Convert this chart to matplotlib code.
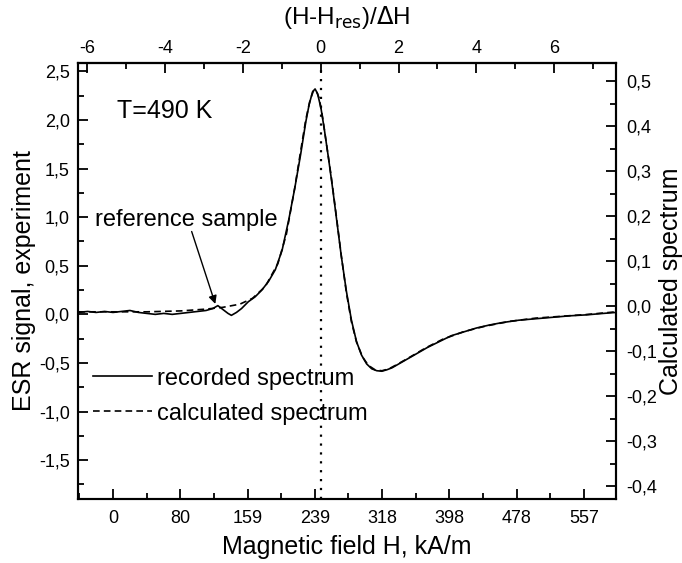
import matplotlib
matplotlib.use('Agg')
from matplotlib import pyplot as plt
from matplotlib.ticker import FixedLocator, FuncFormatter, MultipleLocator

plt.rcParams['font.family'] = ['Liberation Sans', 'DejaVu Sans']
plt.rcParams['axes.unicode_minus'] = False

# recorded spectrum (left axis), field in kA/m
h_rec = [-41, -30, -20, -10, 0, 10, 20, 30, 40, 50, 60, 70, 80, 90, 100, 110,
         118, 124, 130, 136, 140, 146, 152, 160, 168, 176, 184, 192, 200, 208,
         215, 222, 228, 232, 236, 239, 242, 246, 250, 255, 260, 265, 270, 276,
         282, 288, 294, 300, 306, 312, 318, 324, 330, 340, 350, 360, 372, 386,
         400, 415, 430, 445, 460, 480, 500, 520, 540, 560, 580, 595]
esr_rec = [0.02, 0.03, 0.02, 0.03, 0.02, 0.03, 0.04, 0.02, 0.01, 0.0, 0.01, 0.0,
           0.01, 0.02, 0.03, 0.04, 0.06, 0.09, 0.05, 0.01, -0.01, 0.02, 0.06,
           0.13, 0.18, 0.25, 0.34, 0.46, 0.66, 0.98, 1.3, 1.65, 1.98, 2.16,
           2.29, 2.32, 2.27, 2.12, 1.9, 1.6, 1.28, 0.94, 0.6, 0.24, -0.06,
           -0.28, -0.42, -0.51, -0.56, -0.58, -0.585, -0.57, -0.55, -0.5,
           -0.45, -0.4, -0.34, -0.28, -0.22, -0.18, -0.14, -0.11, -0.085,
           -0.06, -0.045, -0.03, -0.015, -0.005, 0.01, 0.02]

# calculated spectrum (right axis)
h_calc = [-41, 0, 40, 80, 110, 130, 150, 165, 180, 195, 205, 215, 222, 228, 233,
          237, 240, 244, 248, 253, 258, 264, 270, 276, 282, 288, 295, 302, 310,
          318, 326, 336, 350, 370, 390, 415, 440, 470, 500, 530, 560, 595]
calc = [-0.012, -0.012, -0.012, -0.010, -0.006, -0.002, 0.005, 0.018, 0.044,
        0.095, 0.160, 0.264, 0.346, 0.415, 0.458, 0.479, 0.481, 0.462, 0.419,
        0.354, 0.290, 0.203, 0.113, 0.031, -0.034, -0.079, -0.112, -0.131,
        -0.141, -0.143, -0.139, -0.129, -0.114, -0.092, -0.073, -0.056,
        -0.044, -0.033, -0.026, -0.022, -0.018, -0.012]

field_ticks = [0, 79.577, 159.15, 238.73, 318.31, 397.89, 477.46, 557.04]
field_labels = ['0', '80', '159', '239', '318', '398', '478', '557']

h_res = 245.7
delta_h = 46.0

comma = FuncFormatter(lambda v, p: f'{v:.1f}'.replace('.', ','))

fig = plt.figure(figsize=(6.82, 5.63), dpi=100)
ax = fig.add_axes([0.1144, 0.1137, 0.7889, 0.7744])
ax2 = ax.twinx()

ax.plot(h_rec, esr_rec, color='black', lw=1.2, label='recorded spectrum')
ax2.plot(h_calc, calc, color='black', lw=1.2, ls=(0, (4, 2.5)))
ax.plot([], [], color='black', lw=1.2, ls=(0, (4, 2.5)), label='calculated spectrum')
ax.axvline(h_res, color='black', ls=(0, (1, 3)), lw=1.6)

ax.set_xlim(-41.4, 595)
ax.set_ylim(-1.90, 2.587)
ax2.set_ylim(-0.428, 0.541)

ax.xaxis.set_major_locator(FixedLocator(field_ticks))
ax.set_xticklabels(field_labels)
ax.xaxis.set_minor_locator(FixedLocator([t + 39.79 for t in [-79.577] + field_ticks]))
ax.yaxis.set_major_locator(MultipleLocator(0.5))
ax.yaxis.set_minor_locator(MultipleLocator(0.25))
ax.yaxis.set_major_formatter(comma)
ax2.yaxis.set_major_locator(MultipleLocator(0.1))
ax2.yaxis.set_minor_locator(MultipleLocator(0.05))
ax2.yaxis.set_major_formatter(comma)

top = ax.secondary_xaxis('top', functions=(lambda h: (h - h_res) / delta_h,
                                           lambda u: u * delta_h + h_res))
top.xaxis.set_major_locator(MultipleLocator(2))
top.xaxis.set_minor_locator(MultipleLocator(1))
top.set_xlabel('(H-H$_{\\mathrm{res}}$)/$\\Delta$H', fontsize=17.5, labelpad=12)

for a in (ax, ax2, top):
    a.tick_params(which='major', direction='in', length=7, width=1.3, labelsize=13)
    a.tick_params(which='minor', direction='in', length=4, width=1.3)
top.tick_params(which='both', direction='in', pad=4)
ax.tick_params(axis='x', which='both', top=False, pad=8)
ax.tick_params(axis='y', pad=6)
ax2.tick_params(axis='y', pad=7)
for s in ax.spines.values():
    s.set_linewidth(1.5)
for s in ax2.spines.values():
    s.set_linewidth(1.5)
top.spines['top'].set_linewidth(1.5)

ax.set_xlabel('Magnetic field H, kA/m', fontsize=18, labelpad=6)
ax.set_ylabel('ESR signal, experiment', fontsize=18, labelpad=2)
ax2.set_ylabel('Calculated spectrum', fontsize=18, labelpad=2)

ax.text(4.7, 2.09, 'T=490 K', fontsize=18, va='center')
ax.text(-21, 0.97, 'reference sample', fontsize=17, va='center')
ax.annotate('', xy=(122, 0.08), xytext=(92, 0.88),
            arrowprops=dict(arrowstyle='-|>', color='black', lw=1.0,
                            mutation_scale=12))

ax.legend(loc='center left', bbox_to_anchor=(0.1364, 0.2966),
          bbox_transform=fig.transFigure, frameon=False, fontsize=17,
          handlelength=2.5, handletextpad=0.2, borderpad=0, borderaxespad=0,
          labelspacing=0.55)

plt.savefig('out.png', dpi=100)
